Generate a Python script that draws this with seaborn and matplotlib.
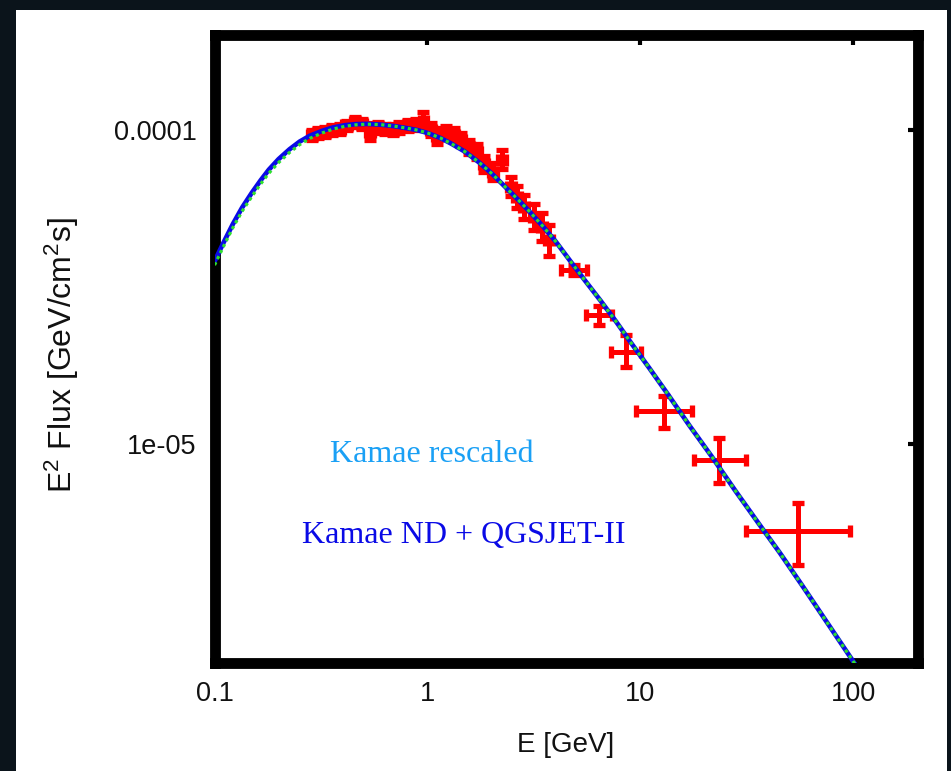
import matplotlib
matplotlib.use("Agg")
import matplotlib.pyplot as plt
import seaborn as sns
import pandas as pd
from matplotlib.patches import Rectangle
from matplotlib.ticker import NullLocator

# ---------------- model curves ----------------
model_E = [0.1, 0.11, 0.122, 0.135, 0.15, 0.165, 0.18, 0.2, 0.225, 0.251, 0.28,
           0.32, 0.36, 0.41, 0.46, 0.52, 0.6, 0.7, 0.8, 0.9, 1.0, 1.15, 1.3, 1.5,
           1.75, 2.0, 2.3, 2.65, 3.0, 3.5, 4.0, 4.7, 5.5, 6.5, 7.67, 9.0, 11.0,
           13.5, 17.0, 21.6, 28.0, 36.0, 45.0, 58.0, 75.0, 100.0, 110.0]
model_nd_qgsjet = [3.8e-5, 4.35e-5, 5.0e-5, 5.65e-5, 6.3e-5, 6.9e-5, 7.45e-5, 8.05e-5,
                   8.65e-5, 9.15e-5, 9.55e-5, 9.9e-5, 1.015e-4, 1.032e-4, 1.04e-4,
                   1.042e-4, 1.037e-4, 1.025e-4, 1.01e-4, 9.95e-5, 9.75e-5, 9.4e-5,
                   9.0e-5, 8.5e-5, 7.85e-5, 7.25e-5, 6.6e-5, 6.0e-5, 5.5e-5, 4.9e-5,
                   4.4e-5, 3.8e-5, 3.3e-5, 2.85e-5, 2.45e-5, 2.1e-5, 1.74e-5, 1.43e-5,
                   1.14e-5, 9.1e-6, 7.05e-6, 5.55e-6, 4.5e-6, 3.5e-6, 2.7e-6, 2.02e-6,
                   1.84e-6]
model_rescaled = [3.7e-5, 4.23e-5, 4.87e-5, 5.5e-5, 6.13e-5, 6.72e-5, 7.26e-5, 7.85e-5,
                  8.45e-5, 8.95e-5, 9.37e-5, 9.75e-5, 1.003e-4, 1.024e-4, 1.035e-4,
                  1.04e-4, 1.037e-4, 1.025e-4, 1.01e-4, 9.95e-5, 9.75e-5, 9.4e-5,
                  9.0e-5, 8.5e-5, 7.85e-5, 7.25e-5, 6.6e-5, 6.0e-5, 5.5e-5, 4.9e-5,
                  4.4e-5, 3.8e-5, 3.3e-5, 2.85e-5, 2.45e-5, 2.1e-5, 1.74e-5, 1.43e-5,
                  1.14e-5, 9.1e-6, 7.05e-6, 5.55e-6, 4.5e-6, 3.5e-6, 2.7e-6, 2.02e-6,
                  1.84e-6]

# ---------------- data points with error bars ----------------
data_E = [0.286, 0.305, 0.329, 0.355, 0.387, 0.417, 0.455, 0.491, 0.535, 0.583,
          0.629, 0.686, 0.739, 0.806, 0.879, 0.958, 1.044, 1.114, 1.227, 1.338,
          1.443, 1.573, 1.715, 1.849, 2.04, 2.245, 2.474, 2.64, 2.85, 3.17, 3.46,
          3.73, 4.88, 6.39, 8.55, 12.9, 23.5, 54.7]
data_F = [9.64e-5, 9.78e-5, 9.85e-5, 1.0e-4, 1.007e-4, 1.03e-4, 1.06e-4, 1.045e-4,
          9.85e-5, 1.015e-4, 1.007e-4, 1.0e-4, 1.015e-4, 1.03e-4, 1.037e-4, 1.068e-4,
          1.0e-4, 9.57e-5, 9.78e-5, 9.64e-5, 9.29e-5, 8.82e-5, 8.5e-5, 7.79e-5,
          7.34e-5, 8.02e-5, 6.58e-5, 6.11e-5, 5.68e-5, 5.27e-5, 4.9e-5, 4.46e-5,
          3.57e-5, 2.56e-5, 1.95e-5, 1.27e-5, 8.89e-6, 5.27e-6]
data_E_err_lo = [0.012, 0.013, 0.014, 0.015, 0.016, 0.018, 0.019, 0.021, 0.023, 0.025,
                 0.027, 0.029, 0.031, 0.034, 0.037, 0.040, 0.044, 0.047, 0.052, 0.056,
                 0.061, 0.066, 0.072, 0.078, 0.086, 0.094, 0.104, 0.111, 0.120, 0.133,
                 0.145, 0.157, 0.63, 0.83, 1.27, 3.37, 5.7, 23.5]
data_E_err_hi = [0.013, 0.014, 0.015, 0.016, 0.017, 0.019, 0.020, 0.022, 0.024, 0.026,
                 0.028, 0.030, 0.033, 0.035, 0.039, 0.042, 0.046, 0.049, 0.054, 0.059,
                 0.064, 0.069, 0.075, 0.081, 0.090, 0.099, 0.109, 0.116, 0.125, 0.139,
                 0.152, 0.164, 0.74, 0.97, 1.49, 4.5, 7.7, 42.1]
data_F_err_lo = [3.5e-6, 3.5e-6, 3.5e-6, 3.6e-6, 3.6e-6, 3.7e-6, 3.8e-6, 3.8e-6, 6.0e-6,
                 3.7e-6, 3.7e-6, 3.7e-6, 3.8e-6, 4.0e-6, 4.2e-6, 6.5e-6, 4.5e-6, 5.5e-6,
                 4.5e-6, 4.5e-6, 4.5e-6, 4.5e-6, 4.5e-6, 4.5e-6, 4.5e-6, 5.5e-6, 4.5e-6,
                 5.0e-6, 5.0e-6, 5.0e-6, 5.0e-6, 5.0e-6, 1.2e-6, 1.8e-6, 2.0e-6, 1.5e-6,
                 1.39e-6, 1.17e-6]
data_F_err_hi = [3.6e-6, 3.6e-6, 3.6e-6, 3.7e-6, 3.7e-6, 3.8e-6, 3.9e-6, 3.9e-6, 6.2e-6,
                 3.8e-6, 3.8e-6, 3.8e-6, 3.9e-6, 4.1e-6, 4.3e-6, 6.7e-6, 4.6e-6, 5.7e-6,
                 4.6e-6, 4.6e-6, 4.6e-6, 4.6e-6, 4.6e-6, 4.6e-6, 4.6e-6, 5.7e-6, 4.6e-6,
                 5.2e-6, 5.2e-6, 5.2e-6, 5.2e-6, 5.2e-6, 1.2e-6, 1.8e-6, 2.6e-6, 1.5e-6,
                 1.56e-6, 1.21e-6]

x_ticks = [0.1, 1, 10, 100]
x_tick_labels = ["0.1", "1", "10", "100"]
y_ticks = [1e-5, 1e-4]
y_tick_labels = ["1e-05", "0.0001"]

label_nd = "Kamae ND + QGSJET-II"
label_rescaled = "Kamae rescaled"

# ---------------- styling ----------------
sns.set_style("white")
plt.rcParams["font.family"] = ["Liberation Sans", "DejaVu Sans"]
plt.rcParams["mathtext.default"] = "regular"

W, H = 951, 771
fig = plt.figure(figsize=(W / 100, H / 100), dpi=100, facecolor="#0b141b")
fig.add_artist(Rectangle((16 / W, 0), (947 - 16) / W, (771 - 10) / H,
                         transform=fig.transFigure, facecolor="white",
                         edgecolor="none", zorder=-1))

ax = fig.add_axes([214.5 / W, 1 - 663 / H, (917.5 - 214.5) / W, (663 - 35) / H])
ax.set_xscale("log")
ax.set_yscale("log")

df_model = pd.DataFrame({"E": model_E, "nd": model_nd_qgsjet, "res": model_rescaled})

ax.errorbar(data_E, data_F,
            xerr=[data_E_err_lo, data_E_err_hi],
            yerr=[data_F_err_lo, data_F_err_hi],
            fmt="none", ecolor="#ff0000", elinewidth=3.6, capsize=4.0,
            capthick=3.8, zorder=2)

sns.lineplot(data=df_model, x="E", y="nd", ax=ax, color="#0a0ae6",
             linewidth=3.4, estimator=None, sort=False, zorder=3)
sns.lineplot(data=df_model, x="E", y="res", ax=ax, color="#2ee02e",
             linewidth=2.3, linestyle=(0, (1, 1.1)), estimator=None, sort=False,
             zorder=4)

ax.set_xlim(0.1, 200)
ax.set_ylim(2e-6, 2e-4)

ax.set_xticks(x_ticks, labels=x_tick_labels)
ax.set_yticks(y_ticks, labels=y_tick_labels)
ax.xaxis.set_minor_locator(NullLocator())
ax.yaxis.set_minor_locator(NullLocator())
ax.tick_params(which="major", direction="in", length=7.5, width=3, color="black",
               top=True, right=True, labelsize=19.5, pad=13, labelcolor="#111111")

for sp in ax.spines.values():
    sp.set_linewidth(7.8)
    sp.set_color("black")
    sp.set_visible(True)

ax.set_xlabel("E [GeV]", fontsize=20, va="center", color="#111111")
ax.xaxis.set_label_coords(0.5, -0.1306)
ax.set_ylabel(r"E$^2$ Flux [GeV/cm$^2$s]", fontsize=23, va="center", color="#111111")
ax.yaxis.set_label_coords(-0.217, 0.49)

ax.text(0.164, 0.320, label_rescaled, transform=ax.transAxes, color="#1aa0f5",
        fontsize=23, family=["Liberation Serif", "DejaVu Serif"], va="baseline", ha="left")
ax.text(0.124, 0.191, label_nd, transform=ax.transAxes, color="#0a0ae6",
        fontsize=23, family=["Liberation Serif", "DejaVu Serif"], va="baseline", ha="left")

if ax.get_legend() is not None:
    ax.get_legend().remove()

fig.savefig("out.png", dpi=100, facecolor=fig.get_facecolor())
